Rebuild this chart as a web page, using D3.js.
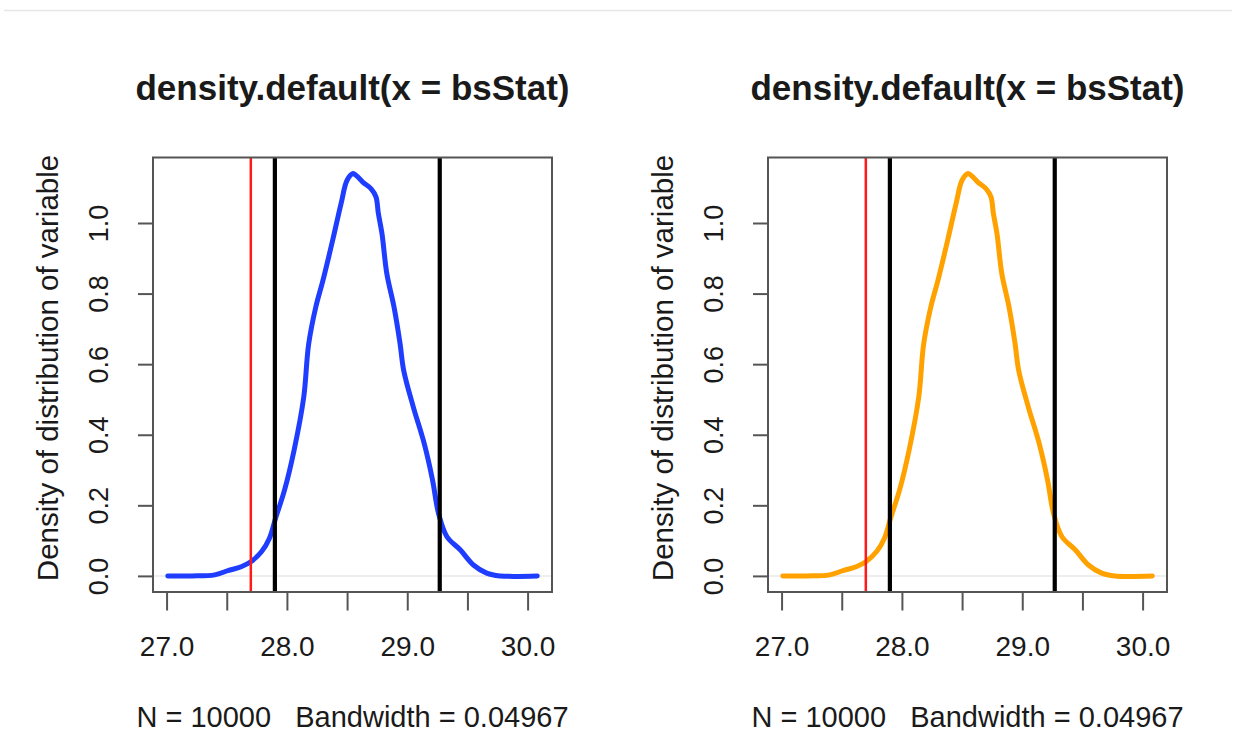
<!DOCTYPE html>
<html>
<head>
<meta charset="utf-8">
<script src="https://cdn.jsdelivr.net/npm/d3@7"></script>
<style>
  html, body { margin: 0; padding: 0; background: #fff; }
  svg { display: block; }
  text { font-family: "Liberation Sans", Arial, Helvetica, sans-serif; fill: #1a1a1a; }
</style>
</head>
<body>
<svg id="chart" width="1237" height="756"></svg>
<script>
// Kernel density estimate of the bootstrap statistic (x grid and density)
const densX = [27.01, 27.21, 27.40, 27.51, 27.62, 27.70, 27.79, 27.855, 27.91, 27.98,
               28.06, 28.14, 28.18, 28.24, 28.30, 28.38, 28.45, 28.50, 28.55, 28.585,
               28.63, 28.70, 28.74, 28.76, 28.79, 28.83, 28.89, 28.94, 28.97, 29.05,
               29.14, 29.21, 29.26, 29.33, 29.44, 29.55, 29.66, 29.77, 30.08];
const densY = [0.000, 0.000, 0.003, 0.015, 0.026, 0.040, 0.069, 0.107, 0.168, 0.243,
               0.357, 0.507, 0.655, 0.762, 0.838, 0.951, 1.055, 1.121, 1.140, 1.132,
               1.116, 1.097, 1.074, 1.027, 0.970, 0.857, 0.762, 0.659, 0.583, 0.479,
               0.376, 0.272, 0.177, 0.111, 0.074, 0.031, 0.008, 0.000, 0.000];

// Reference lines: observed statistic and the two confidence bounds
const observedValue = 27.70;
const ciBounds = [27.90, 29.27];

// Axis ticks
const xTicks = [27.0, 27.5, 28.0, 28.5, 29.0, 29.5, 30.0];
const xTickLabels = ["27.0", "", "28.0", "", "29.0", "", "30.0"];
const yTicks = [0.0, 0.2, 0.4, 0.6, 0.8, 1.0];
const yTickLabels = ["0.0", "0.2", "0.4", "0.6", "0.8", "1.0"];

// Text
const titleText = "density.default(x = bsStat)";
const yLabelText = "Density of distribution of variable";
const subText = "N = 10000   Bandwidth = 0.04967";

// Two panels, same density, different curve colours
const panelColors = ["#1f3dff", "#ffa200"];

const svg = d3.select("#chart");
const data = densX.map((x, i) => ({ x, y: densY[i] }));

// faint rule across the top of the page
svg.append("line")
  .attr("x1", 4).attr("x2", 1232).attr("y1", 10.5).attr("y2", 10.5)
  .attr("stroke", "#e6e6e6").attr("stroke-width", 1.5);

// R-style 4% padding of the data range
function padded(ext) {
  const d = (ext[1] - ext[0]) * 0.04;
  return [ext[0] - d, ext[1] + d];
}
const xDomain = padded(d3.extent(densX));
const yDomain = padded([0, d3.max(densY)]);

const plotW = 399, plotH = 434.5, plotTop = 157.5;
const panelLefts = [153, 768];
const fontStack = '"Liberation Sans", Arial, sans-serif';

panelColors.forEach((color, p) => {
  const left = panelLefts[p];
  const x = d3.scaleLinear().domain(xDomain).range([left, left + plotW]);
  const y = d3.scaleLinear().domain(yDomain).range([plotTop + plotH, plotTop]);
  const g = svg.append("g");

  // zero line
  g.append("line")
    .attr("x1", left).attr("x2", left + plotW)
    .attr("y1", y(0)).attr("y2", y(0))
    .attr("stroke", "#e8e8e8").attr("stroke-width", 1.5);

  // density curve
  g.append("path")
    .datum(data)
    .attr("fill", "none")
    .attr("stroke", color)
    .attr("stroke-width", 5)
    .attr("stroke-linejoin", "round")
    .attr("stroke-linecap", "round")
    .attr("d", d3.line().x(d => x(d.x)).y(d => y(d.y)).curve(d3.curveCatmullRom.alpha(0.5)));

  // observed value
  g.append("line")
    .attr("x1", x(observedValue)).attr("x2", x(observedValue))
    .attr("y1", plotTop).attr("y2", plotTop + plotH)
    .attr("stroke", "#ff1a1a").attr("stroke-width", 2.5);

  // confidence bounds
  g.selectAll("line.ci").data(ciBounds).enter().append("line")
    .attr("class", "ci")
    .attr("x1", d => x(d)).attr("x2", d => x(d))
    .attr("y1", plotTop).attr("y2", plotTop + plotH)
    .attr("stroke", "#000").attr("stroke-width", 4.2);

  // frame
  g.append("rect")
    .attr("x", left).attr("y", plotTop)
    .attr("width", plotW).attr("height", plotH)
    .attr("fill", "none").attr("stroke", "#555").attr("stroke-width", 2);

  // x axis
  const xAxis = d3.axisBottom(x).tickValues(xTicks).tickSize(18.5)
    .tickFormat((d, i) => xTickLabels[i]);
  const xg = g.append("g").attr("transform", `translate(0,${plotTop + plotH})`).call(xAxis);
  xg.select(".domain").remove();
  xg.selectAll(".tick line").attr("stroke", "#555").attr("stroke-width", 2);
  xg.selectAll(".tick text")
    .attr("y", 64).attr("dy", 0)
    .style("font-size", "28px").style("font-family", fontStack)
    .attr("fill", "#1a1a1a");

  // y axis
  const yAxis = d3.axisLeft(y).tickValues(yTicks).tickSize(15)
    .tickFormat((d, i) => yTickLabels[i]);
  const yg = g.append("g").attr("transform", `translate(${left},0)`).call(yAxis);
  yg.select(".domain").remove();
  yg.selectAll(".tick line").attr("stroke", "#555").attr("stroke-width", 2);
  yg.selectAll(".tick text")
    .attr("x", 0).attr("dy", 0)
    .attr("text-anchor", "middle")
    .attr("transform", "translate(-45,0) rotate(-90)")
    .style("font-size", "27px").style("font-family", fontStack)
    .attr("fill", "#1a1a1a");

  // title
  g.append("text")
    .attr("x", left + plotW / 2).attr("y", 100)
    .attr("text-anchor", "middle")
    .style("font-size", "35px").style("font-weight", "bold")
    .text(titleText);

  // y label
  g.append("text")
    .attr("transform", `translate(${left - 95},368) rotate(-90)`)
    .attr("text-anchor", "middle")
    .style("font-size", "29.5px")
    .text(yLabelText);

  // subtitle
  g.append("text")
    .attr("x", left + plotW / 2).attr("y", 727)
    .attr("text-anchor", "middle")
    .style("font-size", "29px")
    .style("white-space", "pre")
    .attr("xml:space", "preserve")
    .text(subText);
});
</script>
</body>
</html>
